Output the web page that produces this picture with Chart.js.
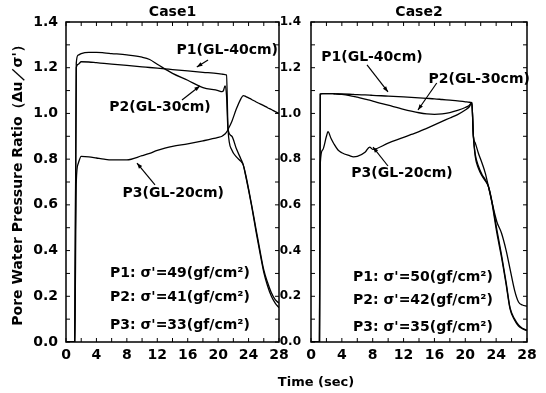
<!DOCTYPE html>
<html>
<head>
<meta charset="utf-8">
<script src="https://cdn.jsdelivr.net/npm/chart.js@4.4.1/dist/chart.umd.min.js"></script>
<style>
  html, body { margin: 0; padding: 0; background: #fff; }
  #wrap { position: relative; width: 546px; height: 393px; overflow: hidden; }
  #c1 { position: absolute; left: 0; top: 0; }
  #c2 { position: absolute; left: 270px; top: 0; }
  #xlabel { position: absolute; left: 256px; top: 374px; width: 120px; text-align: center;
            font: bold 13px "DejaVu Sans"; color: #000; }
</style>
</head>
<body>
<div id="wrap">
  <canvas id="c1" width="296" height="393"></canvas>
  <canvas id="c2" width="276" height="393"></canvas>
  <div id="xlabel">Time (sec)</div>
</div>
<script>
// Case1 - tempo (sec) e rapporto di pressione interstiziale
const case1Time = [0, 1.15, 1.35, 1.6, 2, 3, 4, 5, 6, 8, 10, 11, 12, 13, 14, 16, 18, 20, 20.5, 20.7, 20.9, 21.1, 21.3, 21.8, 22.4, 23, 23.3, 23.6, 24, 24.4, 25, 25.5, 26, 26.5, 27, 27.5, 28];
const case1P1 = [0, 0, 1.2, 1.215, 1.226, 1.225, 1.222, 1.219, 1.216, 1.21, 1.204, 1.201, 1.198, 1.195, 1.192, 1.186, 1.18, 1.174, 1.172, 1.171, 1.17, 1.168, 0.93, 0.84, 0.81, 0.79, 0.775, 0.735, 0.67, 0.6, 0.49, 0.4, 0.315, 0.26, 0.215, 0.185, 0.17];
const case1P2 = [0, 0, 1.22, 1.255, 1.262, 1.267, 1.267, 1.265, 1.262, 1.256, 1.246, 1.236, 1.215, 1.195, 1.175, 1.145, 1.113, 1.1, 1.095, 1.1, 1.12, 1.08, 0.93, 0.9, 0.845, 0.8, 0.775, 0.73, 0.665, 0.595, 0.48, 0.39, 0.305, 0.245, 0.2, 0.17, 0.15];
const case1P3 = [0, 0, 0.7, 0.78, 0.812, 0.81, 0.805, 0.8, 0.797, 0.797, 0.815, 0.825, 0.838, 0.848, 0.856, 0.867, 0.88, 0.895, 0.9, 0.905, 0.91, 0.918, 0.93, 0.965, 1.02, 1.065, 1.078, 1.075, 1.068, 1.061, 1.05, 1.042, 1.034, 1.025, 1.017, 1.008, 1.0];

// Case2
const case2Time = [0, 1.1, 1.2, 1.5, 2, 2.2, 2.6, 3, 3.5, 4, 5, 5.5, 6, 7, 7.6, 8, 10, 12, 13, 14, 15, 16, 17, 18, 19, 20, 20.5, 20.85, 21.05, 21.3, 21.7, 22.2, 22.6, 23, 23.4, 24.1, 24.7, 25.3, 25.8, 26.4, 26.9, 27.4, 28];
const case2P1 = [0, 0, 1.085, 1.087, 1.087, 1.087, 1.087, 1.086, 1.085, 1.085, 1.084, 1.083, 1.082, 1.081, 1.08, 1.079, 1.076, 1.072, 1.07, 1.068, 1.066, 1.064, 1.061, 1.058, 1.055, 1.051, 1.049, 1.047, 0.9, 0.87, 0.826, 0.78, 0.738, 0.68, 0.62, 0.525, 0.476, 0.4, 0.32, 0.225, 0.175, 0.162, 0.157];
const case2P2 = [0, 0, 1.085, 1.087, 1.087, 1.087, 1.087, 1.086, 1.085, 1.083, 1.078, 1.075, 1.071, 1.063, 1.058, 1.054, 1.036, 1.018, 1.01, 1.003, 0.998, 0.996, 0.998, 1.004, 1.013, 1.026, 1.035, 1.047, 0.9, 0.81, 0.76, 0.725, 0.705, 0.68, 0.62, 0.476, 0.37, 0.25, 0.145, 0.095, 0.07, 0.058, 0.05];
const case2P3 = [0, 0, 0.78, 0.84, 0.9, 0.92, 0.89, 0.865, 0.84, 0.828, 0.815, 0.81, 0.812, 0.83, 0.853, 0.843, 0.87, 0.895, 0.908, 0.92, 0.935, 0.95, 0.965, 0.98, 0.995, 1.015, 1.028, 1.045, 0.9, 0.82, 0.77, 0.73, 0.71, 0.68, 0.625, 0.49, 0.38, 0.26, 0.15, 0.1, 0.075, 0.06, 0.052];

const seriesNames = ["P1(GL-40cm)", "P2(GL-30cm)", "P3(GL-20cm)"];
const case1Sigma = ["P1: σ'=49(gf/cm²)", "P2: σ'=41(gf/cm²)", "P3: σ'=33(gf/cm²)"];
const case2Sigma = ["P1: σ'=50(gf/cm²)", "P2: σ'=42(gf/cm²)", "P3: σ'=35(gf/cm²)"];

const FONT = '"DejaVu Sans", sans-serif';

// etichette e frecce (in coordinate dei dati)
const notes1 = {
    labels: [
        { text: seriesNames[0], t: 21.2, v: 1.277, align: "center" },
        { text: seriesNames[1], t: 12.36, v: 1.028, align: "center" },
        { text: seriesNames[2], t: 14.1, v: 0.652, align: "center" },
        { text: case1Sigma[0], t: 5.78, v: 0.302, align: "left" },
        { text: case1Sigma[1], t: 5.78, v: 0.197, align: "left" },
        { text: case1Sigma[2], t: 5.78, v: 0.074, align: "left" }
    ],
    arrows: [
        { from: [18.67, 1.234], to: [17.2, 1.203] },
        { from: [15.25, 1.059], to: [17.6, 1.12] },
        { from: [11.7, 0.687], to: [9.33, 0.783] }
    ]
};
const notes2 = {
    labels: [
        { text: seriesNames[0], t: 7.9, v: 1.247, align: "center" },
        { text: seriesNames[1], t: 21.8, v: 1.15, align: "center" },
        { text: seriesNames[2], t: 11.8, v: 0.739, align: "center" },
        { text: case2Sigma[0], t: 5.44, v: 0.284, align: "left" },
        { text: case2Sigma[1], t: 5.44, v: 0.184, align: "left" },
        { text: case2Sigma[2], t: 5.44, v: 0.066, align: "left" }
    ],
    arrows: [
        { from: [7.26, 1.212], to: [9.98, 1.094] },
        { from: [16.3, 1.133], to: [13.87, 1.015] },
        { from: [9.98, 0.77], to: [8.04, 0.853] }
    ]
};

// cornice e tacche interne su tutti i lati
const frameTicks = {
    id: "frameTicks",
    afterDatasetsDraw(chart) {
        const { ctx, chartArea: a, scales: { x, y } } = chart;
        ctx.save();
        ctx.strokeStyle = "#000";
        ctx.lineWidth = 1;
        ctx.beginPath();
        for (let t = 0; t <= 28; t += 2) {
            const px = x.getPixelForValue(t);
            ctx.moveTo(px, a.bottom); ctx.lineTo(px, a.bottom - 4);
            ctx.moveTo(px, a.top); ctx.lineTo(px, a.top + 4);
        }
        for (let k = 0; k <= 14; k++) {
            const py = y.getPixelForValue(k / 10);
            ctx.moveTo(a.left, py); ctx.lineTo(a.left + 4, py);
            ctx.moveTo(a.right, py); ctx.lineTo(a.right - 4, py);
        }
        ctx.stroke();
        ctx.lineWidth = 1.5;
        ctx.strokeRect(a.left, a.top, a.right - a.left, a.bottom - a.top);
        ctx.restore();
    }
};

function notesPlugin(notes) {
    return {
        id: "notes",
        afterDraw(chart) {
            const { ctx, scales: { x, y } } = chart;
            ctx.save();
            ctx.fillStyle = "#000";
            ctx.strokeStyle = "#000";
            ctx.font = "bold 14px " + FONT;
            ctx.textBaseline = "middle";
            notes.labels.forEach(l => {
                ctx.textAlign = l.align;
                ctx.fillText(l.text, x.getPixelForValue(l.t), y.getPixelForValue(l.v));
            });
            ctx.lineWidth = 1.2;
            notes.arrows.forEach(a => {
                const x0 = x.getPixelForValue(a.from[0]), y0 = y.getPixelForValue(a.from[1]);
                const x1 = x.getPixelForValue(a.to[0]), y1 = y.getPixelForValue(a.to[1]);
                const ang = Math.atan2(y1 - y0, x1 - x0);
                ctx.beginPath();
                ctx.moveTo(x0, y0); ctx.lineTo(x1, y1);
                ctx.stroke();
                ctx.beginPath();
                ctx.moveTo(x1, y1);
                ctx.lineTo(x1 - 6 * Math.cos(ang - 0.35), y1 - 6 * Math.sin(ang - 0.35));
                ctx.lineTo(x1 - 6 * Math.cos(ang + 0.35), y1 - 6 * Math.sin(ang + 0.35));
                ctx.closePath();
                ctx.fill();
            });
            ctx.restore();
        }
    };
}

function punti(times, vals) {
    return times.map((t, i) => ({ x: t, y: vals[i] }));
}

function creaGrafico(id, titolo, times, p1, p2, p3, notes, opz) {
    return new Chart(document.getElementById(id), {
        type: "line",
        data: {
            datasets: [
                { label: seriesNames[0], data: punti(times, p1) },
                { label: seriesNames[1], data: punti(times, p2) },
                { label: seriesNames[2], data: punti(times, p3) }
            ]
        },
        options: {
            responsive: false,
            animation: false,
            elements: {
                point: { radius: 0 },
                line: { borderColor: "#000", borderWidth: 1.3, cubicInterpolationMode: "monotone" }
            },
            layout: { padding: { left: 0, right: opz.rightPad, top: 0, bottom: 0 } },
            plugins: {
                legend: { display: false },
                tooltip: { enabled: false },
                title: {
                    display: true,
                    text: titolo,
                    fullSize: false,
                    color: "#000",
                    font: { family: FONT, size: 14, weight: "bold", lineHeight: 1.2 },
                    padding: { top: 3.5, bottom: 1.7 }
                }
            },
            scales: {
                x: {
                    type: "linear",
                    min: 0,
                    max: 28,
                    grid: { display: false, drawTicks: false },
                    border: { display: false },
                    ticks: {
                        stepSize: 4,
                        autoSkip: false,
                        maxRotation: 0,
                        padding: 5,
                        color: "#000",
                        font: { family: FONT, size: 14, weight: "bold" }
                    },
                    afterFit: s => { s.height = 51; }
                },
                y: {
                    min: 0,
                    max: 1.4,
                    grid: { display: false, drawTicks: false },
                    border: { display: false },
                    title: {
                        display: !!opz.yTitle,
                        text: opz.yTitle || "",
                        color: "#000",
                        font: { family: FONT, size: 14, weight: "bold", lineHeight: 1.2 },
                        padding: { top: 10, bottom: 0 }
                    },
                    ticks: {
                        stepSize: 0.2,
                        padding: opz.yPad,
                        color: "#000",
                        font: { family: FONT, size: opz.yTickSize, weight: "bold" },
                        callback: v => v.toFixed(1)
                    },
                    afterFit: s => { s.width = opz.yWidth; }
                }
            }
        },
        plugins: [frameTicks, notesPlugin(notes)]
    });
}

creaGrafico("c1", "Case1", case1Time, case1P1, case1P2, case1P3, notes1,
    { rightPad: 17, yWidth: 66, yPad: 8, yTickSize: 14, yTitle: "Pore Water Pressure Ratio（Δu／σ'）" });
creaGrafico("c2", "Case2", case2Time, case2P1, case2P2, case2P3, notes2,
    { rightPad: 19, yWidth: 41, yPad: 10, yTickSize: 12 });
</script>
</body>
</html>
